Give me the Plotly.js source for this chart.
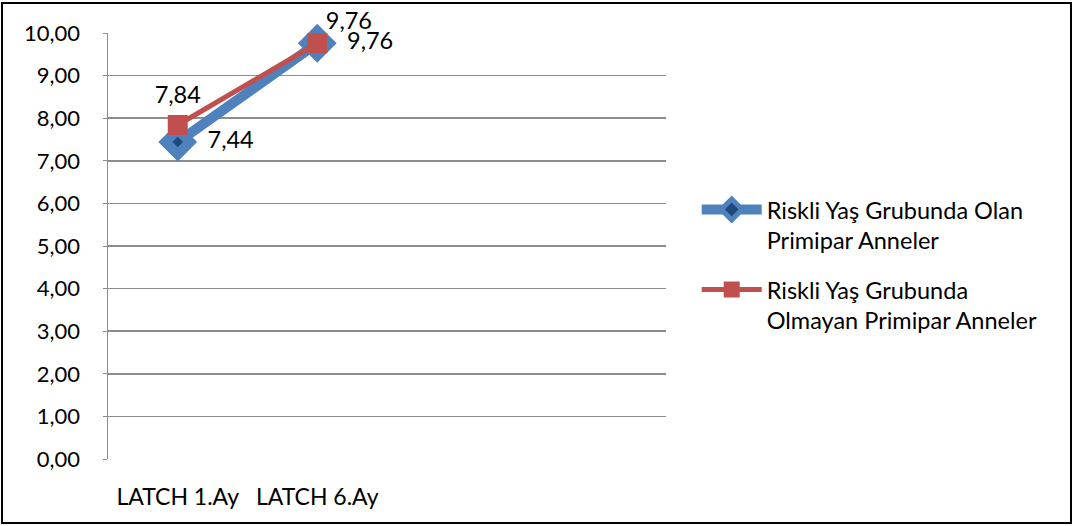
<!DOCTYPE html>
<html>
<head>
<meta charset="utf-8">
<script src="https://cdn.plot.ly/plotly-3.0.1.min.js"></script>
<style>
html,body{margin:0;padding:0;background:#fff;}
#wrap{position:relative;width:1073px;height:526px;}
#chart{width:1073px;height:526px;}
#frame{position:absolute;left:1px;top:2px;width:1067px;height:518px;border:2px solid #000;pointer-events:none;}
</style>
</head>
<body>
<div id="wrap"><div id="chart"></div><div id="frame"></div></div>
<script>
const categories = ["LATCH 1.Ay", "LATCH 6.Ay"];
const seriesNames = ["Riskli Yaş Grubunda Olan<br>Primipar Anneler", "Riskli Yaş Grubunda<br>Olmayan Primipar Anneler"];
const riskliOlan = [7.44, 9.76];
const riskliOlmayan = [7.84, 9.76];
const yTicks = [0,1,2,3,4,5,6,7,8,9,10];

const fmt = v => v.toFixed(2).replace('.', ',');
const xIdx = categories.map((c, i) => i);
const FONT = "Lato, 'Open Sans', sans-serif";

const traces = [
  {
    x: xIdx, y: riskliOlan, name: seriesNames[0], type: 'scatter', mode: 'lines+markers',
    legendgroup: 'a', cliponaxis: false,
    line: {color: '#4F81BD', width: 10},
    marker: {symbol: 'diamond', size: 19, color: '#1F497D', line: {color: '#4F81BD', width: 10}}
  },
  {
    x: xIdx, y: riskliOlmayan, name: seriesNames[1], type: 'scatter', mode: 'lines+markers',
    legendgroup: 'b', cliponaxis: false,
    line: {color: '#C0504D', width: 5},
    marker: {symbol: 'square', size: 20, color: '#C0504D', line: {width: 0}}
  },
  {
    x: xIdx, y: riskliOlan, type: 'scatter', mode: 'markers+text', showlegend: false, hoverinfo: 'skip',
    cliponaxis: false,
    marker: {size: [46, 46], opacity: 0},
    text: riskliOlan.map(fmt), textposition: 'middle right',
    textfont: {family: FONT, size: 23.5, color: '#000'}
  },
  {
    x: xIdx, y: riskliOlmayan, type: 'scatter', mode: 'markers+text', showlegend: false, hoverinfo: 'skip',
    cliponaxis: false,
    marker: {size: [24, 12], opacity: 0},
    text: riskliOlmayan.map(fmt), textposition: ['top center', 'top right'],
    textfont: {family: FONT, size: 23.5, color: '#000'}
  }
];

const layout = {
  width: 1073, height: 526,
  margin: {l: 108, r: 407, t: 33, b: 67, pad: 0},
  paper_bgcolor: '#fff', plot_bgcolor: '#fff',
  separators: ',.',
  font: {family: FONT, size: 22, color: '#000'},
  showlegend: true,
  legend: {
    x: 1.055, xanchor: 'left', y: 0.455, yanchor: 'middle', valign: 'top',
    font: {family: FONT, size: 23.5, color: '#000'},
    bgcolor: 'rgba(0,0,0,0)', itemwidth: 60, tracegroupgap: 16
  },
  xaxis: {
    range: [-0.5, 3.5], tickvals: xIdx, ticktext: categories,
    showgrid: false, zeroline: false, showline: false, ticks: '',
    ticklabelstandoff: 22, tickfont: {family: FONT, size: 23, color: '#000'}, fixedrange: true
  },
  yaxis: {
    range: [0, 10], tickvals: yTicks, tickformat: '.2f',
    showgrid: true, gridcolor: '#8c8c8c', gridwidth: 1.5,
    zeroline: false, showline: true, linecolor: '#8c8c8c', linewidth: 1.5,
    ticks: 'outside', ticklen: 4, tickcolor: '#8c8c8c',
    ticklabelstandoff: 18, tickfont: {family: FONT, size: 22, color: '#000'}, fixedrange: true
  }
};

Plotly.newPlot('chart', traces, layout, {displayModeBar: false, staticPlot: true});
</script>
</body>
</html>
